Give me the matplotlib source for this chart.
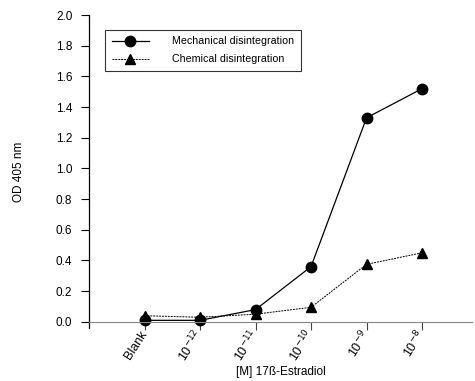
import matplotlib
matplotlib.use("Agg")

import matplotlib.pyplot as plt
import numpy as np

plt.rcParams["font.family"] = ["Liberation Sans", "DejaVu Sans"]

categories = ["Blank", "10$^{-12}$", "10$^{-11}$", "10$^{-10}$", "10$^{-9}$", "10$^{-8}$"]
mechanical = [0.01, 0.01, 0.08, 0.36, 1.33, 1.52]
chemical = [0.04, 0.03, 0.05, 0.095, 0.375, 0.45]

x = np.arange(len(categories))

fig = plt.figure(figsize=(4.75, 3.81), dpi=100)
ax = fig.add_axes([0.1874, 0.1391, 0.8063, 0.8215])

# spine position first: it resets the ticks
ax.spines["top"].set_visible(False)
ax.spines["right"].set_visible(False)
ax.spines["bottom"].set_position(("data", 0))
ax.spines["bottom"].set_color("#888888")
ax.spines["left"].set_linewidth(0.9)

ax.plot(x, mechanical, color="black", linewidth=0.9, marker="o", markersize=7.5,
        label="Mechanical disintegration")
ax.plot(x, chemical, color="black", linewidth=0.7, linestyle=(0, (2, 1)), marker="^",
        markersize=7.5, label="Chemical disintegration")

ax.set_xlim(-1, 5.9)
ax.set_ylim(-0.04, 2.0)
yt = np.arange(0, 2.01, 0.2)
ax.set_yticks(yt)
ax.set_yticklabels([f"{v:.1f}" for v in yt], fontsize=8.5)
ax.set_xticks(x)
ax.set_xticklabels(categories, fontsize=9, rotation=57, ha="right",
                   va="center", rotation_mode="anchor")

ax.tick_params(axis="y", direction="out", length=6, width=0.8, pad=6)
ax.tick_params(axis="x", direction="out", length=6, width=0.8, color="#444444", pad=1)

ax.set_ylabel("OD 405 nm", fontsize=8.5, labelpad=22)
ax.set_xlabel("[M] 17ß-Estradiol", fontsize=8.5)
ax.xaxis.set_label_coords(0.5, -0.14)
ax.xaxis.label.set_va("center")

leg = ax.legend(loc="upper left", bbox_to_anchor=(0.042, 0.952), fontsize=7.7,
                frameon=True, fancybox=False, edgecolor="black", handlelength=3.5,
                borderpad=0.6, labelspacing=0.75, handletextpad=2.2,
                borderaxespad=0)
leg.get_frame().set_linewidth(0.8)

fig.savefig("out.png", dpi=100)
